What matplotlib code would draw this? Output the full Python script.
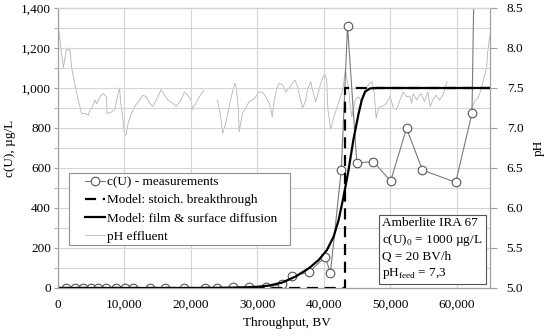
import numpy as np
import matplotlib.pyplot as plt
from matplotlib.ticker import MultipleLocator, FuncFormatter
from matplotlib.patches import Rectangle

plt.rcParams['font.family'] = ['Liberation Serif', 'DejaVu Serif']
plt.rcParams['mathtext.fontset'] = 'custom'
plt.rcParams['mathtext.rm'] = 'Liberation Serif'
plt.rcParams['font.size'] = 9

# measured uranium concentration in effluent
meas_bv = [1200, 2540, 3790, 4900, 6030, 7290, 8680, 10030, 11270, 13770,
           16120, 19010, 22110, 23850, 26390, 28740, 31240, 33730, 35220,
           37720, 40220, 40970, 42620, 43560, 44950, 47460, 50040, 52440,
           54830, 59830, 62280, 63000]
meas_c = [0, 0, 0, 0, 0, 0, 0, 0, 0, 0,
          0, 0, 2, 0, 3, 5, 5, 18, 60,
          78, 156, 73, 590, 1311, 626, 631, 535, 798,
          590, 528, 873, 2400]

# model: stoichiometric breakthrough
stoich_bv = [0, 43200, 43200, 65000]
stoich_c = [0, 0, 1000, 1000]

# model: film & surface diffusion
film_bv = [0, 20000, 25000, 28000, 30000, 31740, 33730, 35730, 37720, 39220,
           40460, 41470, 42220, 42960, 43710, 44460, 45210, 45700, 46210,
           46960, 48000, 65000]
film_c = [0, 0, 1, 3, 6, 12, 27, 57, 98, 140,
          190, 257, 340, 457, 590, 745, 870, 940, 982,
          998, 1000, 1000]

# pH of the effluent
ph_bv = [150, 790, 1300, 1540, 1800, 2050, 2540, 3040, 3290, 3550, 4040, 4540,
         4790, 5040, 5540, 5790, 6290, 6780, 7290, 7380, 8040, 8530, 9030, 9280,
         9390, 9780, 10030, 10280, 10520, 11030, 11530, 12280, 12770, 13280,
         13770, 14270, 14780, 15520, 16020, 16510, 17260, 17770, 18520, 19010,
         19510, 20010, 20250, 20760, 21260, 21750, 22000, 23000,
         24000, 24510, 24750, 25250, 25750, 26240, 26600, 26840, 27140, 27250,
         27740, 28250, 28740, 29240, 29740, 30240, 30730, 31240, 31740, 31990,
         32230, 32530, 32930, 33280, 33790, 34280, 34780, 35280, 35630, 36030,
         36270, 36780, 37270, 37530, 38020, 38280, 38770, 39270, 39770, 40120,
         40420, 40610, 41020, 41510, 42020, 42510, 42920, 43220, 43710, 43970,
         44210, 44710, 45210, 45700, 46210, 46710, 47200, 47560, 47860, 48200,
         48700, 49210, 49700, 49950, 50450, 50940, 51450, 51950, 52440, 52950,
         53190, 53440, 53940, 54390, 54640, 55130, 55640, 55990, 56390, 56890,
         57390, 57890, 58380, 58530, 60000,
         62280, 62770, 63220, 63720, 64110, 64480, 64630, 64880, 65090]
ph_val = [8.20, 7.75, 8.00, 7.97, 7.98, 7.75, 7.54, 7.35, 7.27, 7.18, 7.18, 7.16,
          7.22, 7.24, 7.35, 7.30, 7.39, 7.43, 7.39, 7.18, 7.20, 7.23, 7.43, 7.50,
          7.35, 7.10, 6.89, 6.93, 7.05, 7.18, 7.27, 7.35, 7.41, 7.39,
          7.31, 7.27, 7.35, 7.48, 7.41, 7.35, 7.31, 7.27, 7.35, 7.45,
          7.41, 7.35, 7.23, 7.31, 7.39, 7.45, 7.47, np.nan,
          7.35, 7.12, 6.93, 7.06, 7.27, 7.45, 7.56, 7.50, 7.23, 6.95,
          7.18, 7.25, 7.33, 7.35, 7.39, 7.45, 7.45, 7.39, 7.31, 7.25,
          7.14, 7.35, 7.50, 7.56, 7.54, 7.45, 7.50, 7.56, 7.60, 7.52,
          7.43, 7.25, 7.34, 7.48, 7.58, 7.48, 7.33, 7.48, 7.62, 7.68,
          7.60, 7.23, 6.98, 7.14, 7.27, 7.39, 7.52, 7.73, 7.50, 7.27,
          7.14, 7.35, 7.39, 7.33, 7.48, 7.54, 7.58, 7.45, 7.12, 7.25,
          7.27, 7.29, 7.35, 7.40, 7.25, 7.23, 7.35, 7.45, 7.39, 7.40,
          7.31, 7.43, 7.35, 7.41, 7.43, 7.33, 7.45, 7.27, 7.35, 7.41,
          7.35, 7.41, 7.54, 7.58, np.nan,
          7.25, 7.35, 7.38, 7.50, 7.64, 7.75, 7.94, 8.10, 8.20]

fig = plt.figure(figsize=(5.5, 3.36), dpi=100)
ax = fig.add_axes([0.1055, 0.1429, 0.7855, 0.8333])
ax2 = ax.twinx()
ax.set_zorder(ax2.get_zorder() + 1)
ax.patch.set_visible(False)

grid_c = '#d4d4d4'
ax.set_xlim(0, 65000)
ax.set_ylim(0, 1400)
ax.yaxis.set_major_locator(MultipleLocator(200))
ax.yaxis.set_minor_locator(MultipleLocator(100))
ax.xaxis.set_major_locator(MultipleLocator(10000))
ax.grid(True, which='both', axis='y', color=grid_c, lw=0.8)
ax.grid(True, which='major', axis='x', color=grid_c, lw=0.8)
ax.set_axisbelow(True)
thousands = FuncFormatter(lambda v, p: f'{v:,.0f}')
ax.xaxis.set_major_formatter(thousands)
ax.yaxis.set_major_formatter(thousands)

ax2.set_ylim(5.0, 8.5)
ax2.yaxis.set_major_locator(MultipleLocator(0.5))
ax2.yaxis.set_major_formatter(FuncFormatter(lambda v, p: f'{v:.1f}'))

for a in (ax, ax2):
    for s in a.spines.values():
        s.set_color('#a0a0a0')
        s.set_linewidth(0.8)
    a.tick_params(which='both', length=3, color='#a0a0a0', labelsize=9.5, pad=2)
ax.spines['top'].set_color(grid_c)
ax.tick_params(axis='x', length=0, pad=8)
ax.tick_params(axis='y', which='minor', length=3)
ax2.tick_params(axis='y', which='major', length=5, pad=7)

ph_line, = ax2.plot(ph_bv, ph_val, color='#b4b4b4', lw=0.6)
meas_line, = ax.plot(meas_bv, meas_c, color='#7a7a7a', lw=0.8, marker='o',
                     ms=6.2, mfc='white', mec='#555555', mew=0.8)
stoich_line, = ax.plot(stoich_bv, stoich_c, color='black', lw=1.6,
                       ls=(0, (5, 3)))
film_line, = ax.plot(film_bv, film_c, color='black', lw=1.6)

ax.set_xlabel('Throughput, BV', fontsize=9.5)
ax.xaxis.set_label_coords(0.531, -0.105)
ax.set_ylabel('c(U), µg/L', fontsize=9.5, labelpad=4)
ax2.set_ylabel('pH', fontsize=9.5, labelpad=7)

# legend frame drawn by hand so its size matches the reference
ax.add_patch(Rectangle((0.0253, 0.1536), 0.5127, 0.2571, transform=ax.transAxes,
                       fc='white', ec='#909090', lw=0.8, zorder=4))
leg = ax.legend([meas_line, stoich_line, film_line, ph_line],
                ['c(U) - measurements', 'Model: stoich. breakthrough',
                 'Model: film & surface diffusion', 'pH effluent'],
                loc='upper left', bbox_to_anchor=(0.062, 0.40),
                fontsize=9.5, handlelength=1.5, handletextpad=0.15,
                labelspacing=0.45, borderpad=0, borderaxespad=0,
                frameon=False)
leg.set_zorder(5)

ax.text(0.75, 0.255,
        'Amberlite IRA 67\nc(U)$_0$ = 1000 µg/L\nQ = 20 BV/h\npH$_{\\mathrm{feed}}$ = 7,3',
        transform=ax.transAxes, fontsize=9.5, va='top', ha='left',
        linespacing=1.3, zorder=5,
        bbox=dict(boxstyle='square,pad=0.25', fc='white', ec='#555555', lw=0.8))

fig.savefig('out.png', dpi=100)
